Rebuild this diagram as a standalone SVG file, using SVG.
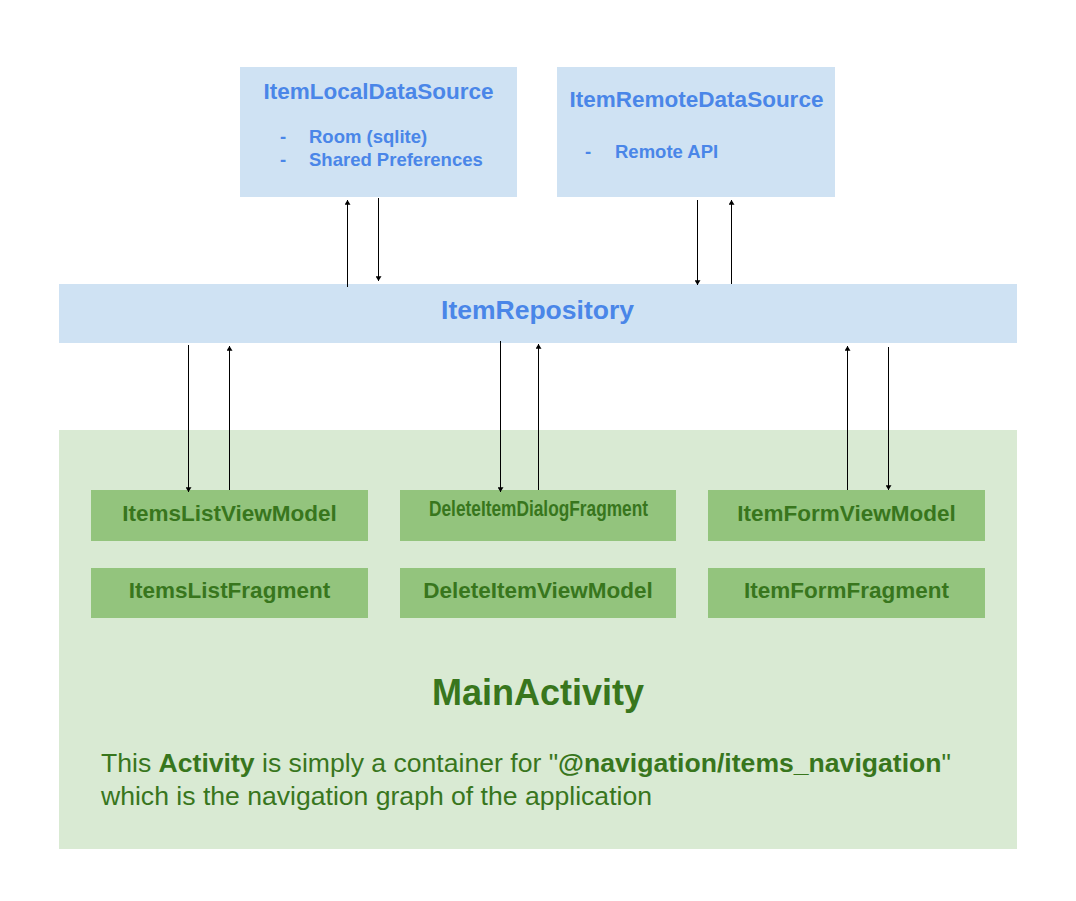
<svg xmlns="http://www.w3.org/2000/svg" width="1076" height="901" viewBox="0 0 1076 901">
<style>
.blue{fill:#cfe2f3}
.cont{fill:#d9ead3}
.gbox{fill:#93c47d}
.bt{font-family:"Liberation Sans",Arial,sans-serif;font-weight:bold;fill:#4a86e8}
.gt{font-family:"Liberation Sans",Arial,sans-serif;font-weight:bold;fill:#38761d;font-size:22.5px;text-anchor:middle}
.body{font-family:"Liberation Sans",Arial,sans-serif;fill:#38761d;font-size:26px}
.c{stroke:#000;stroke-width:1;fill:none;marker-end:url(#ah)}
</style>
<defs>
<marker id="ah" viewBox="0 0 8 10" refX="8" refY="5" markerWidth="5" markerHeight="6" orient="auto" markerUnits="userSpaceOnUse">
<path d="M0,0 L8,5 L0,10 z" fill="#000"/>
</marker>
</defs>
<rect width="1076" height="901" fill="#fff"/>
<g id="local">
<rect class="blue" x="240" y="67" width="277" height="130"/>
<text class="bt" x="378.5" y="99" font-size="22.5" text-anchor="middle">ItemLocalDataSource</text>
<text class="bt" x="280" y="143" font-size="18.5">-</text>
<text class="bt" x="309" y="143" font-size="18.5">Room (sqlite)</text>
<text class="bt" x="280" y="166" font-size="18.5">-</text>
<text class="bt" x="309" y="166" font-size="18.5">Shared Preferences</text>
</g>
<g id="remote">
<rect class="blue" x="557" y="67" width="278" height="130"/>
<text class="bt" x="696.5" y="107" font-size="22.5" text-anchor="middle">ItemRemoteDataSource</text>
<text class="bt" x="585" y="158" font-size="18.5">-</text>
<text class="bt" x="615" y="158" font-size="18.5">Remote API</text>
</g>
<g id="repository">
<rect class="blue" x="59" y="284" width="958" height="59"/>
<text class="bt" x="537.5" y="319" font-size="26.5" text-anchor="middle">ItemRepository</text>
</g>
<g id="mainactivity">
<rect class="cont" x="59" y="430" width="958" height="419"/>
<text x="538" y="705" font-family="Liberation Sans,Arial,sans-serif" font-weight="bold" font-size="36" fill="#38761d" text-anchor="middle">MainActivity</text>
<text class="body" x="101" y="772" textLength="850" lengthAdjust="spacingAndGlyphs">This <tspan font-weight="bold">Activity</tspan> is simply a container for "<tspan font-weight="bold">@navigation/items_navigation</tspan>"</text>
<text class="body" x="101" y="805" textLength="551" lengthAdjust="spacingAndGlyphs">which is the navigation graph of the application</text>
</g>
<g id="itemsListViewModel">
<rect class="gbox" x="91" y="490" width="277" height="51"/>
<text class="gt" x="229.5" y="521">ItemsListViewModel</text>
</g>
<g id="deleteItemDialogFragment">
<rect class="gbox" x="400" y="490" width="276" height="51"/>
<text class="gt" x="538.5" y="515.5" font-size="15.5" textLength="219" lengthAdjust="spacingAndGlyphs">DeleteItemDialogFragment</text>
</g>
<g id="itemFormViewModel">
<rect class="gbox" x="708" y="490" width="277" height="51"/>
<text class="gt" x="846.5" y="521">ItemFormViewModel</text>
</g>
<g id="itemsListFragment">
<rect class="gbox" x="91" y="568" width="277" height="50"/>
<text class="gt" x="229.5" y="598">ItemsListFragment</text>
</g>
<g id="deleteItemViewModel">
<rect class="gbox" x="400" y="568" width="276" height="50"/>
<text class="gt" x="538" y="598">DeleteItemViewModel</text>
</g>
<g id="itemFormFragment">
<rect class="gbox" x="708" y="568" width="277" height="50"/>
<text class="gt" x="846.5" y="598">ItemFormFragment</text>
</g>
<g id="connectors">
<line class="c" x1="347.5" y1="287" x2="347.5" y2="200"/>
<line class="c" x1="378.5" y1="198" x2="378.5" y2="281"/>
<line class="c" x1="697.5" y1="200" x2="697.5" y2="285"/>
<line class="c" x1="731.5" y1="284" x2="731.5" y2="200"/>
<line class="c" x1="188.5" y1="345" x2="188.5" y2="492"/>
<line class="c" x1="229.5" y1="490" x2="229.5" y2="346"/>
<line class="c" x1="500.5" y1="341" x2="500.5" y2="492"/>
<line class="c" x1="538.5" y1="490" x2="538.5" y2="344"/>
<line class="c" x1="847.5" y1="490" x2="847.5" y2="346"/>
<line class="c" x1="888.5" y1="347" x2="888.5" y2="490"/>
</g>
</svg>
